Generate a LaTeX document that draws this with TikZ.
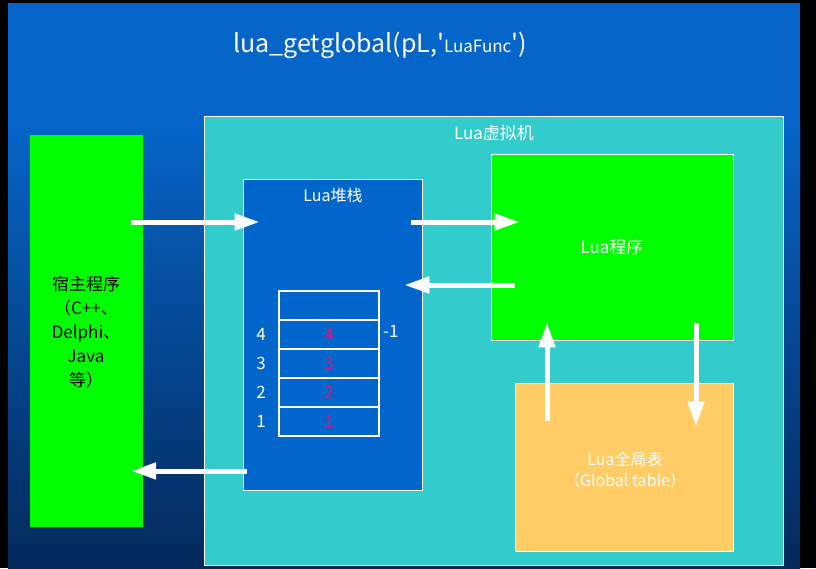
\documentclass[tikz,border=0pt]{standalone}
\usepackage{fontspec}
\setmainfont{Noto Sans CJK SC}
\usetikzlibrary{arrows.meta,positioning}

\definecolor{slideblue}{HTML}{0565C9}
\definecolor{slidenavy}{HTML}{04295A}
\definecolor{vmcyan}{HTML}{33CCCC}
\definecolor{stackblue}{HTML}{0066CC}
\definecolor{hostgreen}{HTML}{00FF00}
\definecolor{globorange}{HTML}{FFCC66}
\definecolor{nummag}{HTML}{E0177F}

\tikzset{
  box/.style={rectangle, draw=white, line width=0.8pt, inner sep=0pt},
  row/.style={rectangle, draw=white, line width=1.2pt, outer sep=0pt, minimum width=100pt, minimum height=29pt, inner sep=0pt, text=nummag, font=\fontsize{17}{20}\selectfont},
  idx/.style={text=white, inner sep=0pt, font=\fontsize{17}{20}\selectfont},
  flow/.style={white, line width=5pt, -{Triangle[length=25pt,width=16pt]}}
}

\begin{document}
\begin{tikzpicture}[x=1pt, y=-1pt]
    % slide background
    \fill[black] (0,0) rectangle (816,568);
    \fill[slideblue] (8,3) rectangle (800,120);
    \shade[top color=slideblue, bottom color=slidenavy] (8,120) rectangle (800,568);
    \useasboundingbox (0,0) rectangle (816,568);

    \node (title) [text=white, font=\fontsize{25}{28}\selectfont] at (380,45) {lua\_getglobal(pL,\textquotesingle{\fontsize{17}{20}\selectfont LuaFunc}\textquotesingle)};

    \node (host) [rectangle, fill=hostgreen, minimum width=113pt, minimum height=392pt, inner sep=0pt] at (86.5,331) {};
    \node (hosttext) [align=center, font=\fontsize{17}{24}\selectfont] at (86,332) {宿主程序\\（C++、\\Delphi、\\Java\\等）};

    \node (vm) [box, fill=vmcyan, minimum width=579pt, minimum height=449pt] at (493.5,340.5) {};
    \node (vmlabel) [text=white, font=\fontsize{17}{20}\selectfont] at (494,133) {Lua虚拟机};

    \node (stack) [box, fill=stackblue, minimum width=179pt, minimum height=311pt] at (332.5,334.5) {};
    \node (stacklabel) [text=white, font=\fontsize{16}{20}\selectfont] at (333,195) {Lua堆栈};

    \node (prog) [box, fill=hostgreen, minimum width=242pt, minimum height=186pt, text=white, font=\fontsize{17}{20}\selectfont] at (612,247) {Lua程序};

    \node (glob) [box, fill=globorange, minimum width=218pt, minimum height=168pt] at (624,467) {};
    \node (globtext) [text=white, align=center, font=\fontsize{16}{21}\selectfont] at (625,470) {Lua全局表\\（Global table）};

    % stack slots
    \node (row0) [row] at (329,305.5) {};
    \node (row4) [row, below=0pt of row0] {4};
    \node (row3) [row, below=0pt of row4] {3};
    \node (row2) [row, below=0pt of row3] {2};
    \node (row1) [row, below=0pt of row2] {1};
    \node (i4) [idx, left=13pt of row4] {4};
    \node (i3) [idx, left=13pt of row3] {3};
    \node (i2) [idx, left=13pt of row2] {2};
    \node (i1) [idx, left=13pt of row1] {1};
    \node (neg1) [idx, right=4pt of row4, yshift=3pt] {-1};

    \draw[flow] ([shift={(-12,-109)}]host.east) -- ([shift={(17,-112.5)}]stack.west);
    \draw[flow] ([shift={(-11,-112.5)}]stack.east) -- ([shift={(29,-25)}]prog.west);
    \draw[flow] ([shift={(24,38)}]prog.west) -- ([shift={(-18,-49.5)}]stack.east);
    \draw[flow] ([shift={(4,136.5)}]stack.west) -- ([shift={(-12,140)}]host.east);
    \draw[flow] ([shift={(-77,38)}]glob.north) -- ([shift={(-65,-18)}]prog.south);
    \draw[flow] ([shift={(84,-17)}]prog.south) -- ([shift={(72,44)}]glob.north);
\end{tikzpicture}
\end{document}
